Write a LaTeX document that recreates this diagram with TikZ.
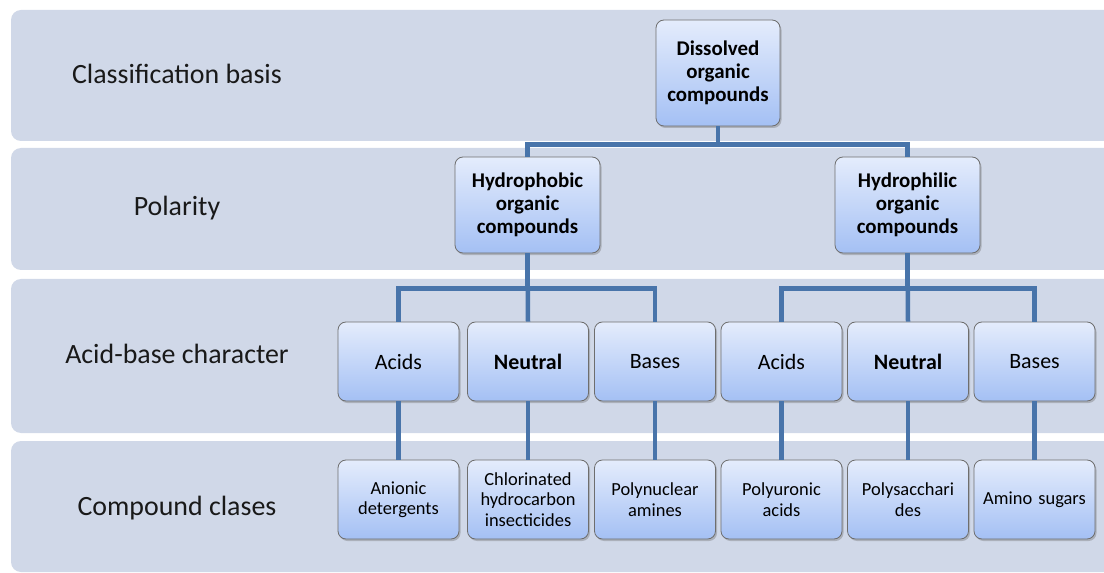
\documentclass[tikz,border=0pt]{standalone}
\usepackage{fontspec}
\setmainfont{Carlito}
\usetikzlibrary{shadows}

\definecolor{bandfill}{RGB}{208,216,232}
\definecolor{linkblue}{RGB}{72,116,170}
\definecolor{boxtop}{RGB}{228,236,252}
\definecolor{boxbot}{RGB}{164,192,244}
\definecolor{boxedge}{RGB}{110,110,110}

\tikzset{
  band/.style={fill=bandfill, draw=none, rounded corners=10bp},
  rowlabel/.style={font=\fontsize{28}{32}\selectfont, text=black!90},
  box/.style={draw=boxedge, line width=0.8bp, rounded corners=8bp,
    top color=boxtop, bottom color=boxbot, align=center, inner sep=2bp,
    drop shadow={shadow xshift=1.5bp, shadow yshift=-2bp, opacity=0.35, fill=black!60}},
  rootbox/.style={box, minimum width=124bp, minimum height=106bp, text width=118bp,
    font=\bfseries\fontsize{21}{23}\selectfont},
  polbox/.style={box, minimum width=145bp, minimum height=96bp, text width=139bp,
    font=\bfseries\fontsize{21}{23}\selectfont},
  charbox/.style={box, minimum width=121bp, minimum height=79bp, text width=115bp,
    font=\fontsize{22}{24}\selectfont},
  classbox/.style={box, minimum width=121bp, minimum height=79bp, text width=117bp,
    font=\fontsize{18.5}{20.5}\selectfont},
  link/.style={draw=linkblue, line width=4.5bp}
}

\begin{document}
\begin{tikzpicture}[x=1bp, y=-1bp]
  \clip (0,0) rectangle (1104,573);
  \fill[white] (0,0) rectangle (1104,573);

  % horizontal bands, one per classification level
  \fill[band] (11,10) rectangle (1130,141);
  \fill[band] (11,148) rectangle (1130,270);
  \fill[band] (11,279) rectangle (1130,433);
  \fill[band] (11,441) rectangle (1130,572);

  % level names
  \node[rowlabel] (l1) at (177,74) {Classification basis};
  \node[rowlabel] (l2) at (177,208) {Polarity};
  \node[rowlabel] (l3) at (177,354) {Acid-base character};
  \node[rowlabel] (l4) at (177,508) {Compound clases};

  % boxes
  \node[rootbox] (root) at (718,73) {Dissolved\\organic\\compounds};
  \node[polbox] (hphob) at (527.5,205) {Hydrophobic\\organic\\compounds};
  \node[polbox] (hphil) at (907.5,205) {Hydrophilic\\organic\\compounds};

  \node[charbox] (a1) at (398.5,361.5) {Acids};
  \node[charbox] (n1) at (528,361.5) {\bfseries Neutral};
  \node[charbox] (b1) at (655,361.5) {Bases};
  \node[charbox] (a2) at (781.5,361.5) {Acids};
  \node[charbox] (n2) at (908,361.5) {\bfseries Neutral};
  \node[charbox] (b2) at (1034.5,361.5) {Bases};

  \node[classbox] (c1) at (398.5,499.5) {Anionic\\detergents};
  \node[classbox] (c2) at (528,499.5) {Chlorinated\\hydrocarbon\\insecticides};
  \node[classbox] (c3) at (655,499.5) {Polynuclear\\amines};
  \node[classbox] (c4) at (781.5,499.5) {Polyuronic\\acids};
  \node[classbox] (c5) at (908,499.5) {Polysacchari\\des};
  \node[classbox] (c6) at (1034.5,499.5) {Amino sugars};

  % tree connectors
  \draw[link] (root.south) -- ++(0,18) -| (hphob.north);
  \draw[link] (root.south) -- ++(0,18) -| (hphil.north);

  \draw[link] (hphob.south) -- ++(0,35) -| (a1.north);
  \draw[link] (hphob.south) -- (n1.north);
  \draw[link] (hphob.south) -- ++(0,35) -| (b1.north);

  \draw[link] (hphil.south) -- ++(0,35) -| (a2.north);
  \draw[link] (hphil.south) -- (n2.north);
  \draw[link] (hphil.south) -- ++(0,35) -| (b2.north);

  \draw[link] (a1.south) -- (c1.north);
  \draw[link] (n1.south) -- (c2.north);
  \draw[link] (b1.south) -- (c3.north);
  \draw[link] (a2.south) -- (c4.north);
  \draw[link] (n2.south) -- (c5.north);
  \draw[link] (b2.south) -- (c6.north);
\end{tikzpicture}
\end{document}
